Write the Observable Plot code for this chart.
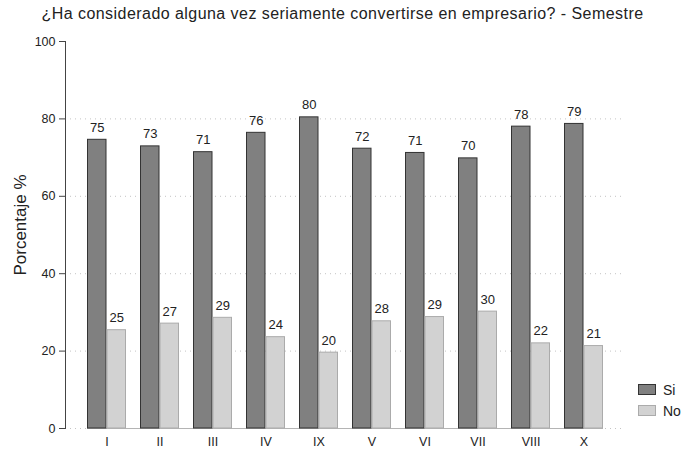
<!DOCTYPE html>
<html><head><meta charset="utf-8">
<script src="https://cdn.jsdelivr.net/npm/d3@7"></script>
<script src="https://cdn.jsdelivr.net/npm/@observablehq/plot@0.6"></script>
<style>
body{margin:0;background:#fff;font-family:"Liberation Sans",Arial,sans-serif;}
#wrap{position:relative;width:685px;height:453px;overflow:hidden;}
#title{height:28px;line-height:28px;text-align:center;font-size:16px;letter-spacing:0.45px;color:#222;white-space:nowrap;}
#legend{position:absolute;left:638px;top:379px;font-size:14px;color:#222;}
#legend .item{display:flex;align-items:center;height:21px;}
#legend .sw{display:inline-block;width:16px;height:9px;margin-right:7px;}
</style></head><body>
<div id="wrap"><div id="title">¿Ha considerado alguna vez seriamente convertirse en empresario? - Semestre</div><div id="chart"></div><div id="legend"></div></div>
<script>
const semesters = ["I","II","III","IV","IX","V","VI","VII","VIII","X"];
const si = [74.6, 72.9, 71.4, 76.4, 80.4, 72.3, 71.2, 69.8, 78.0, 78.7];
const no = [25.4, 27.1, 28.6, 23.6, 19.6, 27.7, 28.8, 30.2, 22.0, 21.3];
const groups = ["Si","No"];
const groupFill = ["#808080","#d2d2d2"];
const groupStroke = ["#333333","#ababab"];
const yTicks = [0,20,40,60,80,100];
const gridTicks = [0,20,40,60,80];
const yLabel = "Porcentaje %";

const data = semesters.flatMap((s,i)=>[
  {semester:s, group:"Si", value:si[i]},
  {semester:s, group:"No", value:no[i]}
]);

const W = 685, H = 425, ML = 65, MR = 62, MT = 13, MB = 25;

function build(geom){
  const {bw, baseL, baseR} = geom;
  const half = bw/2;
  return Plot.plot({
    width:W, height:H, marginTop:MT, marginBottom:MB, marginLeft:ML, marginRight:MR,
    style:{fontFamily:"Liberation Sans, Arial, sans-serif", fontSize:"12.5px", color:"#222", background:"#fff", overflow:"visible"},
    x:{domain:semesters, paddingInner:0.271, paddingOuter:0.35, align:0.53, label:null, tickSize:0, tickPadding:9},
    y:{domain:[0,100], axis:null},
    color:{domain:groups, range:groupFill},
    marks:[
      Plot.ruleY(gridTicks, {stroke:"#c4c4c4", strokeDasharray:"1,4"}),
      Plot.ruleY([0], {stroke:"#b4b4b4", insetLeft:baseL, insetRight:baseR}),
      Plot.frame({anchor:"left", stroke:"#444"}),
      Plot.axisY({ticks:yTicks, tickSize:6, tickPadding:4, stroke:"#444", label:null, fontSize:12.5}),
      Plot.text([yLabel], {frameAnchor:"left", textAnchor:"middle", dx:-45, dy:-10, rotate:-90, fontSize:17, fill:"#222"}),
      Plot.barY(data.filter(d=>d.group==="Si"), {x:"semester", y:"value", fill:"group", stroke:groupStroke[0], insetLeft:0.5, insetRight:half+0.5}),
      Plot.barY(data.filter(d=>d.group==="No"), {x:"semester", y:"value", fill:"group", stroke:groupStroke[1], insetLeft:half+0.5, insetRight:0.5}),
      ...groups.map((g,gi)=>Plot.text(data.filter(d=>d.group===g), {x:"semester", y:"value", text:d=>Math.round(d.value), dx:(gi===0?-1:1)*half/2, dy:-8, lineAnchor:"bottom", fontSize:13, fill:"#222"}))
    ]
  });
}
const probe = build({bw:0, baseL:0, baseR:0});
const xs = probe.scale("x");
const bw = xs.bandwidth;
const baseL = xs.apply(semesters[0]) - ML;
const baseR = (W - MR) - (xs.apply(semesters[semesters.length-1]) + bw);
const chart = build({bw, baseL, baseR});
document.getElementById("chart").appendChild(chart);

const color = chart.scale("color");
const leg = document.getElementById("legend");
groups.forEach((g,gi)=>{
  const it = document.createElement("div"); it.className="item";
  const sw = document.createElement("span"); sw.className="sw";
  sw.style.background = color.apply(g); sw.style.border = "1px solid " + groupStroke[gi];
  const t = document.createElement("span"); t.textContent = g;
  it.appendChild(sw); it.appendChild(t); leg.appendChild(it);
});
</script></body></html>
